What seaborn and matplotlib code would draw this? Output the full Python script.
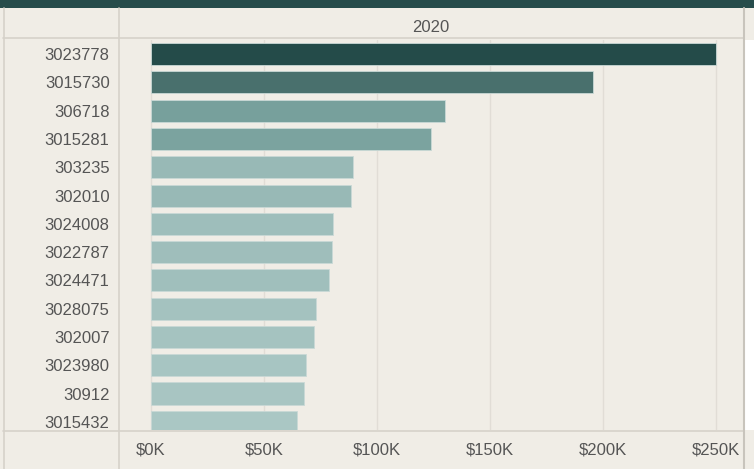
import matplotlib
matplotlib.use("Agg")
import matplotlib.pyplot as plt
import seaborn as sns
import pandas as pd
from matplotlib.colors import LinearSegmentedColormap, Normalize
from matplotlib.ticker import FuncFormatter

ids = ["3023778", "3015730", "306718", "3015281", "303235", "302010", "3024008",
       "3022787", "3024471", "3028075", "302007", "3023980", "30912", "3015432"]
sales_k = [250.0, 195.6, 130.0, 124.0, 89.4, 88.5, 80.5, 80.3, 78.8, 73.0, 72.2, 68.6, 67.7, 64.5]
column_header = "2020"
x_ticks_k = [0, 50, 100, 150, 200, 250]

df = pd.DataFrame({"id": ids, "sales": [v * 1000 for v in sales_k]})

bg = "#f0ede6"
cmap = LinearSegmentedColormap.from_list(
    "tab", [(0.0, "#aac7c4"), (0.13, "#98b9b6"), (0.35, "#77a09c"), (0.70, "#4a716e"), (1.0, "#244b49")])
norm = Normalize(vmin=min(df["sales"]), vmax=max(df["sales"]))
palette = {i: cmap(norm(v)) for i, v in zip(df["id"], df["sales"])}

sns.set_style("white")
plt.rcParams["font.family"] = ["Liberation Sans", "DejaVu Sans"]

W, H = 754, 469
fig = plt.figure(figsize=(W / 100, H / 100), dpi=100, facecolor=bg)

x0, x1, yt, yb = 118, 743, 40, 430
ax = fig.add_axes([x0 / W, (H - yb) / H, (x1 - x0) / W, (yb - yt) / H])
ax.set_facecolor(bg)
sns.barplot(data=df, y="id", x="sales", hue="id", palette=palette, legend=False,
            orient="h", width=0.78, saturation=1, ax=ax, edgecolor="#c9d9d6",
            linewidth=0.6, zorder=3)

pxk = (716 - 151) / 250.0
ax.set_xlim(-(151 - x0) / pxk * 1000, (x1 - 151) / pxk * 1000)
ax.set_ylim(13.29, -0.5)
ax.set_xticks([t * 1000 for t in x_ticks_k])
ax.xaxis.set_major_formatter(FuncFormatter(lambda v, p: f"${v/1000:.0f}K"))
ax.grid(axis="x", color="#e1ddd6", linewidth=1, zorder=0)
ax.tick_params(axis="both", length=0, labelsize=12, colors="#555555")
ax.tick_params(axis="x", pad=9)
ax.tick_params(axis="y", pad=6)
ax.set_xlabel("")
ax.set_ylabel("")
for s in ax.spines.values():
    s.set_visible(False)

fig.add_artist(plt.Rectangle((0, 1 - 8 / H), 1, 8 / H, transform=fig.transFigure,
                             facecolor="#264c4b", edgecolor="none", zorder=5))
fig.text((x0 + x1) / 2 / W, 1 - 27 / H, column_header, ha="center", va="center",
         fontsize=12, color="#555555")

line_c = "#d6d2ca"
def hline(y, xa, xb, c=line_c, lw=1.2):
    fig.add_artist(plt.Line2D([xa / W, xb / W], [1 - y / H, 1 - y / H], color=c, lw=lw,
                              transform=fig.transFigure, zorder=6))
def vline(x, ya, yb2, c=line_c, lw=1.2):
    fig.add_artist(plt.Line2D([x / W, x / W], [1 - ya / H, 1 - yb2 / H], color=c, lw=lw,
                              transform=fig.transFigure, zorder=6))

fig.add_artist(plt.Rectangle((744.5 / W, 1 - 430 / H), (W - 744.5) / W, (430 - 40) / H,
                             transform=fig.transFigure, facecolor="white",
                             edgecolor="none", zorder=4))
hline(38.5, 3, 743)
hline(430.5, 3, 743)
vline(118.5, 8, 469)
vline(3.5, 8, 469)
vline(743.5, 8, 469, c="#c8c4bc", lw=1.5)

fig.savefig("out.png", dpi=100, facecolor=bg)
